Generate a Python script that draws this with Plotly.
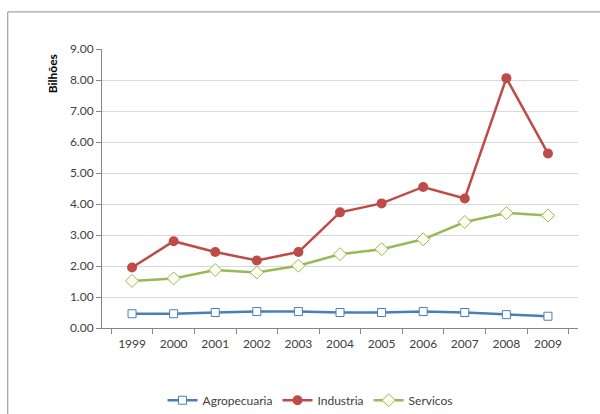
import plotly.graph_objects as go

anos = ["1999", "2000", "2001", "2002", "2003", "2004", "2005", "2006", "2007", "2008", "2009"]
agropecuaria = [0.46, 0.46, 0.50, 0.53, 0.53, 0.50, 0.50, 0.53, 0.50, 0.43, 0.38]
industria = [1.95, 2.80, 2.45, 2.18, 2.45, 3.73, 4.02, 4.55, 4.18, 8.06, 5.63]
servicos = [1.52, 1.60, 1.87, 1.79, 2.01, 2.38, 2.54, 2.86, 3.42, 3.71, 3.63]
y_ticks = [0, 1, 2, 3, 4, 5, 6, 7, 8, 9]

FONT = "Lato, 'Open Sans', sans-serif"
TXT = "#404040"

fig = go.Figure()
fig.add_trace(go.Scatter(
    x=anos, y=agropecuaria, name="Agropecuaria", mode="lines+markers",
    line=dict(color="#4A7EBB", width=2.5),
    marker=dict(symbol="square", size=8, color="white",
                line=dict(color="#4A7EBB", width=1)),
))
fig.add_trace(go.Scatter(
    x=anos, y=industria, name="Industria", mode="lines+markers",
    line=dict(color="#BE4B48", width=2.5),
    marker=dict(symbol="circle", size=10, color="#BE4B48",
                line=dict(color="#BE4B48", width=0)),
))
fig.add_trace(go.Scatter(
    x=anos, y=servicos, name="Servicos", mode="lines+markers",
    line=dict(color="#98B954", width=2.5),
    marker=dict(symbol="diamond", size=10, color="#FDFDF0",
                line=dict(color="#98B954", width=1)),
))

fig.update_layout(
    width=600, height=414,
    margin=dict(l=102, r=22, t=49, b=86, autoexpand=False),
    paper_bgcolor="white", plot_bgcolor="white",
    font=dict(family=FONT, size=12, color=TXT),
    showlegend=True,
    legend=dict(orientation="h", x=0.437, xanchor="center", y=-0.259, yanchor="middle",
                font=dict(family=FONT, size=12, color=TXT),
                traceorder="normal"),
    xaxis=dict(
        type="category", tickson="boundaries", ticks="outside", ticklen=5,
        tickcolor="#868686", showline=True, linecolor="#868686", linewidth=1,
        showgrid=False, tickfont=dict(size=12, color=TXT), fixedrange=True,
        ticklabelstandoff=5,
    ),
    yaxis=dict(
        range=[0, 9], tickvals=y_ticks, ticktext=[f"{v:.2f}" for v in y_ticks],
        ticks="outside", ticklen=5, tickcolor="#868686",
        showline=True, linecolor="#868686", linewidth=1,
        showgrid=True, gridcolor="#D9D9D9", gridwidth=1,
        zeroline=False, tickfont=dict(size=12, color=TXT), fixedrange=True,
    ),
    annotations=[dict(
        text="<b>Bilhões</b>", textangle=-90, xref="paper", yref="paper",
        x=-0.104, y=0.988, xanchor="center", yanchor="top", showarrow=False,
        font=dict(family=FONT, size=12, color="#000000"),
    )],
    shapes=[dict(
        type="rect", xref="paper", yref="paper",
        x0=-0.198, x1=1.2, y0=-0.4, y1=1.133,
        line=dict(color="#8C8C8C", width=1), fillcolor="rgba(0,0,0,0)", layer="below",
    )],
)

fig.write_html("out.html")
